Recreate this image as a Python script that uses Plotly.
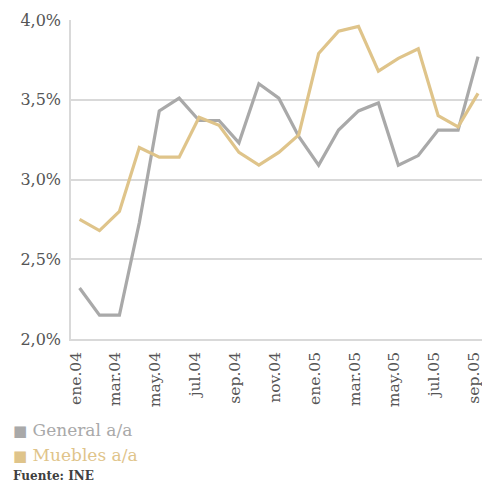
import plotly.graph_objects as go

months = ["ene.04", "feb.04", "mar.04", "abr.04", "may.04", "jun.04", "jul.04",
          "ago.04", "sep.04", "oct.04", "nov.04", "dic.04", "ene.05", "feb.05",
          "mar.05", "abr.05", "may.05", "jun.05", "jul.05", "ago.05", "sep.05"]
general = [2.32, 2.15, 2.15, 2.73, 3.43, 3.51, 3.37, 3.37, 3.23, 3.60, 3.51,
           3.27, 3.09, 3.31, 3.43, 3.48, 3.09, 3.15, 3.31, 3.31, 3.77]
muebles = [2.75, 2.68, 2.80, 3.20, 3.14, 3.14, 3.39, 3.34, 3.17, 3.09, 3.17,
           3.28, 3.79, 3.93, 3.96, 3.68, 3.76, 3.82, 3.40, 3.33, 3.54]
ytick_vals = [2.0, 2.5, 3.0, 3.5, 4.0]
ytick_text = ["2,0%", "2,5%", "3,0%", "3,5%", "4,0%"]
source = "Fuente: INE"

GRAY = "#a9a9a9"
GOLD = "#dfc48a"
TXT = "#555555"
FONT = "DejaVu Serif"

x = list(range(len(months)))
fig = go.Figure()
fig.add_trace(go.Scatter(x=x, y=general, mode="lines", name="General a/a",
                         line=dict(color=GRAY, width=3.2), cliponaxis=False))
fig.add_trace(go.Scatter(x=x, y=muebles, mode="lines", name="Muebles a/a",
                         line=dict(color=GOLD, width=3.2), cliponaxis=False))

fig.update_layout(
    width=482, height=483,
    margin=dict(l=71, r=0, t=20, b=144, autoexpand=False),
    paper_bgcolor="white", plot_bgcolor="white",
    showlegend=False,
    font=dict(family=FONT, color=TXT),
    xaxis=dict(range=[-0.43, 20.2], tickvals=x[::2], ticktext=months[::2],
               tickangle=-90, showgrid=False, zeroline=False, automargin=False,
               showline=True, linecolor="#d9d9d9", linewidth=1.5,
               ticklabeloverflow="allow", ticklabelstandoff=5, ticklabelshift=-4,
               ticks="", tickfont=dict(size=15.5, color=TXT, family=FONT)),
    yaxis=dict(range=[2.0, 4.0], tickvals=ytick_vals, ticktext=ytick_text,
               showgrid=True, gridcolor="#d9d9d9", gridwidth=1.5, zeroline=False,
               showline=True, linecolor="#d9d9d9", linewidth=1.5, automargin=False,
               ticklabelstandoff=5,
               ticks="", tickfont=dict(size=16, color=TXT, family=FONT)),
)

fig.add_annotation(xref="paper", yref="paper", x=-0.145, y=-0.285,
                   xanchor="left", yanchor="middle", showarrow=False,
                   text="<span style='font-size:15px'>■</span> General a/a",
                   font=dict(size=17, color=GRAY, family=FONT))
fig.add_annotation(xref="paper", yref="paper", x=-0.145, y=-0.364,
                   xanchor="left", yanchor="middle", showarrow=False,
                   text="<span style='font-size:15px'>■</span> Muebles a/a",
                   font=dict(size=17, color=GOLD, family=FONT))
fig.add_annotation(xref="paper", yref="paper", x=-0.145, y=-0.428,
                   xanchor="left", yanchor="middle", showarrow=False,
                   text="<b>" + source + "</b>",
                   font=dict(size=12, color="#404040", family=FONT))

fig.write_html("out.html", config={"displayModeBar": False},
               post_script="document.body.style.margin='0';document.body.style.overflow='hidden';")
